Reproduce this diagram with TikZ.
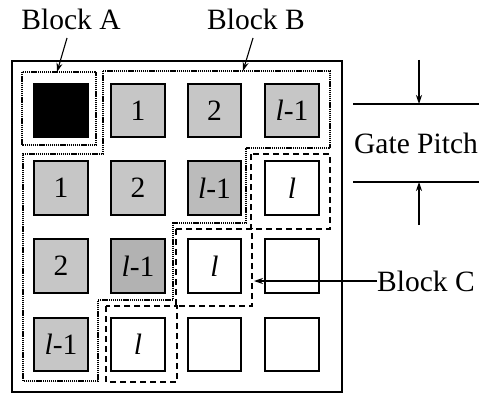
\documentclass[tikz,border=0pt]{standalone}
\usepackage{fontspec}
\setmainfont{Liberation Serif}
\usetikzlibrary{arrows.meta}
\begin{document}
\begin{tikzpicture}[x=1pt,y=-1pt,
  font=\fontsize{29.5}{32}\selectfont,
  cell/.style={draw=black,line width=2.4pt,minimum size=53.5pt,inner sep=0pt,fill=white},
  gA/.style={cell,fill=gray!45},
  gB/.style={cell,fill=gray!53},
  gC/.style={cell,fill=gray!60},
  dotb/.style={line width=1.8pt,dash pattern=on 1.3pt off 0.8pt},
  dashb/.style={line width=1.9pt,dash pattern=on 6pt off 4pt},
  thin/.style={line width=1.1pt},
  arr/.style={line width=1.1pt,-{Stealth[length=9pt,width=6pt]}}]
\useasboundingbox (0,0) rectangle (479,396);
% outer frame
\draw[thin] (12,61) rectangle (342,392);
% cells
\node[cell,fill=black] (c11) at (61,110.5) {};
\node[gA] (c12) at (138,110.5) {1};
\node[gA] (c13) at (214.5,110.5) {2};
\node[gA] (c14) at (292,110.5) {\textit{l}-1};
\node[gA] (c21) at (61,188) {1};
\node[gA] (c22) at (138,188) {2};
\node[gB] (c23) at (214.5,188) {\textit{l}-1};
\node[cell] (c24) at (292,188) {\textit{l}};
\node[gA] (c31) at (61,266) {2};
\node[gC] (c32) at (138,266) {\textit{l}-1};
\node[cell] (c33) at (214.5,266) {\textit{l}};
\node[cell] (c34) at (292,266) {};
\node[gA] (c41) at (61,344.5) {\textit{l}-1};
\node[cell] (c42) at (138,344.5) {\textit{l}};
\node[cell] (c43) at (214.5,344.5) {};
\node[cell] (c44) at (292,344.5) {};
% block A dotted box
\draw[dotb] (22,72) rectangle (96,145);
% block B dotted outline
\draw[dotb] (103,71) -- (330,71) -- (330,148) -- (246,148) -- (246,223) -- (173,223)
  -- (173,300) -- (98,300) -- (98,381) -- (23,381) -- (23,154) -- (103,154) -- cycle;
% block C dashed boxes
\draw[dashb] (251,154) rectangle (330,229);
\draw[dashb] (176,229) rectangle (252,306);
\draw[dashb] (106,306) rectangle (177,382);
% labels
\node (la) at (71,19) {Block A};
\node (lb) at (256,19) {Block B};
\coordinate (pa1) at (67,38);
\coordinate (pa2) at (57,72);
\coordinate (pb1) at (253,38);
\coordinate (pb2) at (243,71);
\draw[arr] (pa1) -- (pa2);
\draw[arr] (pb1) -- (pb2);
% gate pitch
\coordinate (g1l) at (353,104);
\coordinate (g1r) at (479,104);
\coordinate (g2l) at (353,182);
\coordinate (g2r) at (479,182);
\draw[thin] (g1l) -- (g1r);
\draw[thin] (g2l) -- (g2r);
\coordinate (ta) at (419,60);
\coordinate (tb) at (419,104);
\coordinate (ba) at (419,225);
\coordinate (bb) at (419,182);
\draw[arr] (ta) -- (tb);
\draw[arr] (ba) -- (bb);
\node (gp) at (416,143) {Gate Pitch};
% block C label
\node[anchor=west,inner sep=0pt] (lc) at (377,281) {Block C};
\coordinate (ce) at (254,281);
\draw[arr] (lc.west) -- (ce);
\end{tikzpicture}
\end{document}
